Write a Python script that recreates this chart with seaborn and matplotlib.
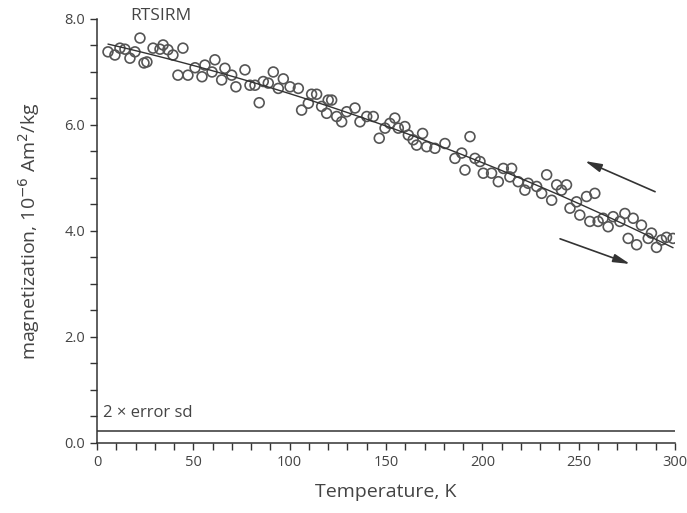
import matplotlib
matplotlib.use("Agg")
import matplotlib.pyplot as plt
from matplotlib.ticker import MultipleLocator
import numpy as np
import pandas as pd
import seaborn as sns

# ---- data ----
temperature = [5.7, 9.3, 11.9, 14.5, 17.1, 19.7, 22.3, 24.4, 25.9, 29.1, 32.7, 34.3,
               36.8, 39.4, 44.6, 42.0, 47.2, 50.9, 54.5, 56.0, 59.7, 61.2,
               64.7, 66.4, 69.9, 72.1, 76.8, 79.4, 82.0, 84.2, 86.3, 88.9, 91.5, 94.1,
               96.7, 100.2, 104.5, 106.2, 109.7, 111.4, 114.0, 116.6, 119.2, 120.0,
               121.8, 124.4, 127.0, 129.6, 133.9, 136.5, 140.0, 143.4, 146.5, 149.5,
               152.0, 154.6, 156.4, 159.8, 161.6, 164.1, 165.9, 169.0, 171.1, 175.4,
               180.6, 185.8, 189.3, 193.6, 191.0, 196.2, 198.8, 200.5, 204.8, 208.3,
               210.9, 215.2, 214.3, 218.6, 222.1, 223.8, 228.2, 230.8, 233.4,
               236.0, 238.6, 241.1, 243.7, 245.5, 248.9, 250.6, 254.1, 255.8, 258.4,
               260.1, 262.7, 265.3, 267.9, 271.4, 274.0, 275.7, 278.3, 280.1, 282.6,
               286.1, 287.8, 290.4, 293.0, 295.6, 299.0]
magnetization = [7.38, 7.32, 7.45, 7.43, 7.26, 7.38, 7.64, 7.17, 7.19, 7.45, 7.43, 7.51,
                 7.42, 7.32, 7.45, 6.94, 6.94, 7.08, 6.91, 7.13, 7.00, 7.23,
                 6.85, 7.07, 6.94, 6.72, 7.04, 6.75, 6.75, 6.42, 6.82, 6.79, 7.00, 6.69,
                 6.87, 6.72, 6.69, 6.28, 6.41, 6.58, 6.58, 6.35, 6.22, 6.47,
                 6.47, 6.16, 6.06, 6.25, 6.32, 6.06, 6.16, 6.16, 5.75, 5.94,
                 6.03, 6.13, 5.94, 5.97, 5.81, 5.72, 5.62, 5.84, 5.59, 5.56,
                 5.65, 5.37, 5.47, 5.78, 5.15, 5.37, 5.31, 5.09, 5.09, 4.93,
                 5.18, 5.18, 5.02, 4.93, 4.77, 4.90, 4.84, 4.71, 5.06,
                 4.58, 4.87, 4.77, 4.87, 4.43, 4.55, 4.30, 4.65, 4.18, 4.71,
                 4.18, 4.24, 4.08, 4.27, 4.18, 4.33, 3.86, 4.24, 3.74, 4.11,
                 3.86, 3.96, 3.69, 3.83, 3.88, 3.86]
error_level = 0.22
x_ticks = [0, 50, 100, 150, 200, 250, 300]
y_ticks = [0.0, 2.0, 4.0, 6.0, 8.0]

df = pd.DataFrame({"T": temperature, "M": magnetization})

sns.set_style("ticks")
plt.rcParams["font.family"] = ["Open Sans", "DejaVu Sans"]
plt.rcParams["mathtext.fontset"] = "dejavusans"

fig = plt.figure(figsize=(6.87, 5.13), dpi=100)
ax = fig.add_axes([0.1412, 0.1365, 0.9825 - 0.1412, 0.963 - 0.1365])

sns.scatterplot(data=df, x="T", y="M", ax=ax, marker="o", s=50,
                facecolor="none", edgecolor="#555555", linewidth=1.2, zorder=3)
sns.regplot(data=df, x="T", y="M", ax=ax, order=2, ci=None, scatter=False,
            line_kws={"color": "#333333", "linewidth": 1.0, "zorder": 4})

ax.axhline(error_level, color="#333333", linewidth=1.1, xmin=0, xmax=1)
ax.text(3, 0.42, "2 \u00d7 error sd", fontsize=12, color="#444444", ha="left", va="bottom")
ax.text(33, 8.06, "RTSIRM", fontsize=12.5, color="#444444", ha="center", va="center",
        clip_on=False)

# arrows
ax.annotate("", xy=(252, 5.34), xytext=(291, 4.72),
            arrowprops=dict(arrowstyle="-|>,head_length=1.0,head_width=0.25",
                            color="#333333", lw=1.2))
ax.annotate("", xy=(278, 3.36), xytext=(239, 3.87),
            arrowprops=dict(arrowstyle="-|>,head_length=1.0,head_width=0.25",
                            color="#333333", lw=1.2))

ax.set_xlim(0, 300)
ax.set_ylim(0, 8)
ax.set_xticks(x_ticks)
ax.set_xticklabels([str(t) for t in x_ticks])
ax.set_yticks(y_ticks)
ax.set_yticklabels([f"{t:.1f}" for t in y_ticks])
ax.xaxis.set_minor_locator(MultipleLocator(10))
ax.yaxis.set_minor_locator(MultipleLocator(0.5))
ax.tick_params(which="both", direction="out", length=5, width=1.0, color="#333333",
               labelsize=10.5, labelcolor="#444444")
ax.tick_params(axis="x", pad=4)

for side in ["top", "right"]:
    ax.spines[side].set_visible(False)
for side in ["left", "bottom"]:
    ax.spines[side].set_color("#333333")
    ax.spines[side].set_linewidth(1.1)

ax.set_xlabel("Temperature, K", fontsize=14, color="#444444", labelpad=9)
ax.set_ylabel("magnetization, 10$^{-6}$ Am$^{2}$/kg", fontsize=14, color="#444444", labelpad=16)

fig.savefig("out.png", dpi=100)
